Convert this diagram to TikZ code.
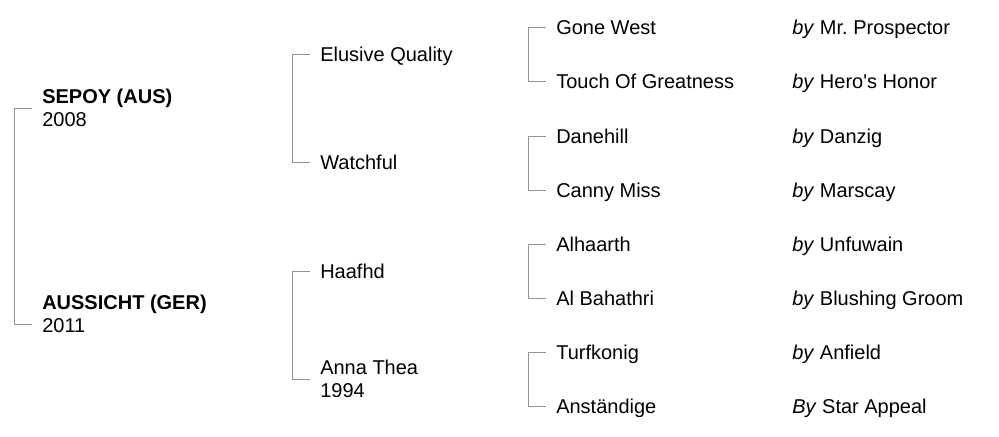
\documentclass[tikz,border=0pt]{standalone}
\usepackage{fontspec}
\setmainfont{Liberation Sans}[Ligatures=TeXOff]
\usepackage{tikz}
\usetikzlibrary{positioning}
\tikzset{horse/.style={anchor=west,inner xsep=7.5pt,inner ysep=0pt,text height=10.7pt,text depth=0pt,font={\fontsize{15pt}{17.25pt}\selectfont}},
  twoline/.style={horse,align=left,text depth={},text height={}},
  link/.style={draw=black!42,line width=0.75pt}}

\begin{document}
\begin{tikzpicture}[x=0.75pt,y=-0.75pt]
    \useasboundingbox (0,0) rectangle (999,436);
    % generation 1
    \node[twoline] (sepoy)at (32,108) {\textbf{SEPOY (AUS)}\\2008};
    \node[twoline] (aussicht)at (32,314) {\textbf{AUSSICHT (GER)}\\2011};
    % generation 2
    \node[horse] (elusive)at (310,54) {Elusive Quality};
    \node[horse] (watchful)at (310,162) {Watchful};
    \node[horse] (haafhd)at (310,271) {Haafhd};
    \node[twoline] (annathea)at (310,379) {Anna Thea\\1994};
    % generation 3
    \node[horse] (gonewest)at (546,27) {Gone West};
    \node[horse] (touch)at (546,81) {Touch Of Greatness};
    \node[horse] (danehill)at (546,136) {Danehill};
    \node[horse] (canny)at (546,190) {Canny Miss};
    \node[horse] (alhaarth)at (546,244) {Alhaarth};
    \node[horse] (albahathri)at (546,298) {Al Bahathri};
    \node[horse] (turfkonig)at (546,352) {Turfkonig};
    \node[horse] (anstandige)at (546,406) {Anst\"andige};
    % sires
    \node[horse,inner xsep=0pt] (sgonewest)at (792,27) {\textit{by} Mr.\ Prospector};
    \node[horse,inner xsep=0pt] (stouch)at (792,81) {\textit{by} Hero's Honor};
    \node[horse,inner xsep=0pt] (sdanehill)at (792,136) {\textit{by} Danzig};
    \node[horse,inner xsep=0pt] (scanny)at (792,190) {\textit{by} Marscay};
    \node[horse,inner xsep=0pt] (salhaarth)at (792,244) {\textit{by} Unfuwain};
    \node[horse,inner xsep=0pt] (salbahathri)at (792,298) {\textit{by} Blushing Groom};
    \node[horse,inner xsep=0pt] (sturfkonig)at (792,352) {\textit{by} Anfield};
    \node[horse,inner xsep=0pt] (sanstandige)at (792,406) {\textit{By} Star Appeal};

    \draw [link] (sepoy.west) -- ++(-18,0) |- ([yshift=-7.5pt]aussicht.west);
    \draw [link] (elusive.west) -- ++(-18,0) |- (watchful.west);
    \draw [link] (haafhd.west) -- ++(-18,0) |- (annathea.west);
    \draw [link] (gonewest.west) -- ++(-18,0) |- (touch.west);
    \draw [link] (danehill.west) -- ++(-18,0) |- (canny.west);
    \draw [link] (alhaarth.west) -- ++(-18,0) |- (albahathri.west);
    \draw [link] (turfkonig.west) -- ++(-18,0) |- (anstandige.west);
\end{tikzpicture}
\end{document}
